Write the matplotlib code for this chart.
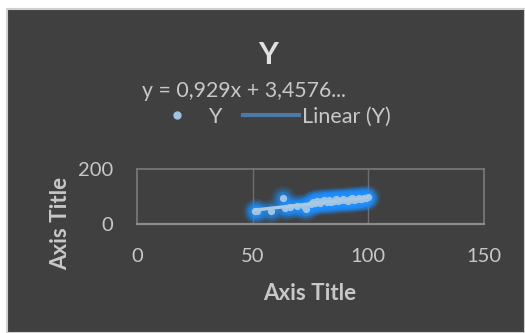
import matplotlib
matplotlib.use("Agg")
import matplotlib.pyplot as plt
from matplotlib.lines import Line2D
import numpy as np

x_vals = [51, 52, 58, 63, 64, 66, 69, 72, 73, 75, 76, 77, 78, 79, 80, 81, 82, 83,
          84, 85, 86, 87, 88, 89, 90, 91, 92, 93, 94, 95, 96, 97, 98, 99, 100]
y_vals = [46, 46, 47, 93, 60, 62, 66, 64, 55, 72, 80, 76, 84, 78, 82, 86, 80, 88,
          79, 84, 90, 85, 86, 92, 88, 85, 90, 94, 89, 92, 95, 91, 93, 96, 97]
slope = 0.929
intercept = 3.4576
title = "Y"
eq_text = "y = 0,929x + 3,4576..."
x_ticks = [0, 50, 100, 150]
y_ticks = [0, 200]

plt.rcParams['font.family'] = ['Lato', 'DejaVu Sans']

W, H = 525, 333
fig = plt.figure(figsize=(W / 100, H / 100), dpi=100, facecolor='white')
bg = fig.add_axes([7 / W, 0, 1 - 7 / W, 1 - 9 / H], zorder=-5)
bg.set_facecolor('#404040')
bg.set_xticks([]); bg.set_yticks([])
for s in bg.spines.values():
    s.set_color('#d0d0d0')
    s.set_linewidth(1.5)

ax = fig.add_axes([137 / W, 1 - 224 / H, (484 - 137) / W, (224 - 169) / H], zorder=1)
ax.set_facecolor('#404040')
ax.set_xlim(0, 150)
ax.set_ylim(0, 200)
ax.set_xticks(x_ticks)
ax.set_yticks(y_ticks)
ax.tick_params(length=0, colors='#c8c8c8', labelsize=14.5)
ax.tick_params(axis='x', pad=17)
ax.tick_params(axis='y', pad=17)
for s in ax.spines.values():
    s.set_color('#7a7a7a')
    s.set_linewidth(1.2)
ax.spines['bottom'].set_color('#8c8c8c')
ax.spines['bottom'].set_linewidth(1.6)
for xv in [50, 100]:
    ax.axvline(xv, color='#6e6e6e', lw=1, zorder=1)

xs = np.array(x_vals)
ys = np.array(y_vals)
# glow
for size, alpha in [(330, 0.10), (230, 0.16), (150, 0.25), (90, 0.4)]:
    ax.scatter(xs, ys, s=size, color='#1e8fff', alpha=alpha, linewidths=0, zorder=2)
ax.scatter(xs, ys, s=28, color='#9dc3e6', linewidths=0, zorder=3)
lx = np.array([min(x_vals), max(x_vals)])
ax.plot(lx, slope * lx + intercept, color='#a9c8e4', lw=2.4, zorder=4, solid_capstyle='round')

ax.set_xlabel("Axis Title", fontsize=16, fontweight='bold', color='#c8c8c8', va='center')
ax.xaxis.set_label_coords((310 - 137) / 347, (224 - 294) / 55)
ax.set_ylabel("Axis Title", fontsize=16, fontweight='bold', color='#c8c8c8', va='center')
ax.yaxis.set_label_coords((61 - 137) / 347, (224 - 223) / 55)

fig.text(268 / W, 1 - 55 / H, title, fontsize=22, fontweight='bold', color='#e0e0e0',
         ha='center', va='center')
fig.text(142 / W, 1 - 91 / H, eq_text, fontsize=15.3, color='#c8c8c8', ha='left', va='center')

handles = [Line2D([], [], marker='o', ls='none', color='#9dc3e6', markersize=5),
           Line2D([], [], color='#4a7aa5', lw=3)]
leg = fig.legend(handles, ["Y", "Linear (Y)"], loc='center', bbox_to_anchor=(270 / W, 1 - 117 / H),
                 ncol=2, frameon=False, fontsize=15.5, labelcolor='#c8c8c8',
                 handlelength=2.6, columnspacing=1.0, handletextpad=0.15)

fig.savefig("out.png", dpi=100, facecolor=fig.get_facecolor())
